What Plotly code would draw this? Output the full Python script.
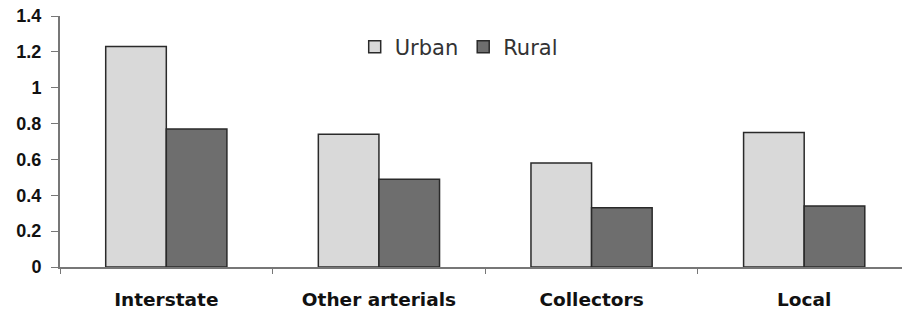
import plotly.graph_objects as go

categories = ["Interstate", "Other arterials", "Collectors", "Local"]
urban = [1.23, 0.74, 0.58, 0.75]
rural = [0.77, 0.49, 0.33, 0.34]
y_ticks = [0, 0.2, 0.4, 0.6, 0.8, 1, 1.2, 1.4]
y_tick_text = ["0", "0.2", "0.4", "0.6", "0.8", "1", "1.2", "1.4"]

fig = go.Figure()
fig.add_trace(go.Bar(name="Urban", x=categories, y=urban,
                     marker=dict(color="#d9d9d9", line=dict(color="#2a2a2a", width=1.5))))
fig.add_trace(go.Bar(name="Rural", x=categories, y=rural,
                     marker=dict(color="#6e6e6e", line=dict(color="#2a2a2a", width=1.5))))

fig.update_layout(
    width=902, height=316,
    margin=dict(l=60, r=0, t=16, b=49, autoexpand=False),
    paper_bgcolor="white", plot_bgcolor="white",
    barmode="group", bargap=0.43, bargroupgap=0,
    font=dict(family="Liberation Sans, Arial, sans-serif", color="#111"),
    legend=dict(orientation="h", x=0.35, y=0.876, xanchor="left", yanchor="middle",
                font=dict(size=21, family="DejaVu Sans, sans-serif", color="#333"),
                bgcolor="rgba(0,0,0,0)", itemwidth=30, traceorder="normal"),
    showlegend=True,
)
fig.update_xaxes(
    range=[-0.5, 3.46], automargin=False,
    showline=True, linecolor="#777", linewidth=2,
    ticks="outside", tickson="boundaries", ticklen=5, tickcolor="#777",
    ticklabelstandoff=15,
    tickfont=dict(size=18.5, family="DejaVu Sans, sans-serif", weight="bold", color="#111"),
    showgrid=False,
)
fig.update_yaxes(
    range=[0, 1.4], tickvals=y_ticks, ticktext=y_tick_text, automargin=False,
    showline=True, linecolor="#777", linewidth=2,
    ticks="outside", ticklen=7, tickcolor="#777", ticklabelstandoff=6,
    ticklabeloverflow="allow",
    tickfont=dict(size=18, family="Liberation Sans, Arial, sans-serif", weight="bold", color="#111"),
    showgrid=False, zeroline=False,
)
fig.write_html("out.html", config={"displayModeBar": False},
               post_script="document.body.style.margin='0';")
